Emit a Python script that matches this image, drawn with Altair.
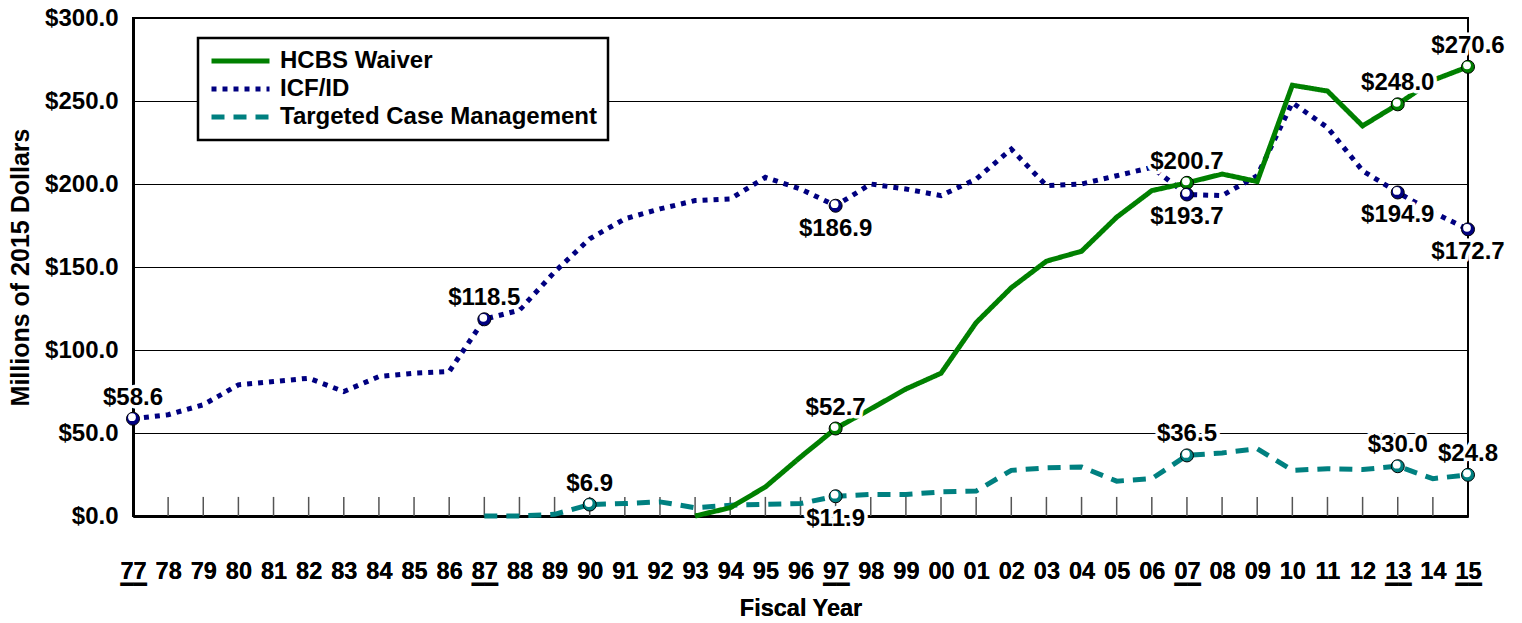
import altair as alt
import pandas as pd

# ---------------- data ----------------
YEARS = list(range(1977, 2016))
TICK_LABELS = ["77", "78", "79", "80", "81", "82", "83", "84", "85", "86",
               "87", "88", "89", "90", "91", "92", "93", "94", "95", "96",
               "97", "98", "99", "00", "01", "02", "03", "04", "05", "06",
               "07", "08", "09", "10", "11", "12", "13", "14", "15"]
UNDERLINED_YEARS = [1977, 1987, 1997, 2007, 2013, 2015]

SERIES = ["HCBS Waiver", "ICF/ID", "Targeted Case Management"]

HCBS = [None] * 16 + [0.0, 5.0, 17.5, 35.5, 52.7, 64.5, 76.5, 86.0, 116.5, 137.5,
                      153.5, 159.5, 180.0, 196.0, 200.7, 206.0, 201.5, 259.5, 256.0,
                      235.0, 248.0, 262.5, 270.6]
ICF = [58.6, 61.0, 67.0, 79.0, 81.0, 83.0, 75.0, 84.0, 86.0, 87.0,
       118.5, 124.0, 147.0, 167.0, 179.0, 185.0, 190.0, 191.0, 204.0, 197.0,
       186.9, 200.0, 197.0, 193.0, 203.0, 221.0, 199.0, 200.0, 205.0, 210.0,
       193.7, 193.0, 205.0, 249.0, 234.0, 208.0, 194.9, 183.0, 172.7]
TCM = [None] * 10 + [0.0, 0.0, 1.0, 6.9, 7.5, 8.5, 5.0, 6.5, 7.0, 7.5,
                     11.9, 13.0, 13.0, 14.5, 15.0, 27.5, 29.0, 29.5, 21.0, 22.5,
                     36.5, 38.0, 40.5, 27.5, 28.5, 28.0, 30.0, 22.5, 24.8]

MARKER_YEARS = {
    "HCBS Waiver": [1997, 2007, 2013, 2015],
    "ICF/ID": [1977, 1987, 1997, 2007, 2013, 2015],
    "Targeted Case Management": [1990, 1997, 2007, 2013, 2015],
}
LABEL_BELOW_YEARS = {
    "ICF/ID": [1997, 2007, 2013, 2015],
    "Targeted Case Management": [1997],
}
Y_TICKS = [0, 50, 100, 150, 200, 250, 300]

# ---------------- styles ----------------
COLORS = ["#008000", "#000080", "#008080"]
DASHES = [[1, 0], [5, 6], [13, 9]]
FONT = "Liberation Sans"
TICK_LEN = 11.5  # inner tick length in data units

rows = []
for name, vals in zip(SERIES, [HCBS, ICF, TCM]):
    for yr, v in zip(YEARS, vals):
        if v is not None:
            rows.append({"series": name, "year": yr, "value": v})
df = pd.DataFrame(rows)

mk = df[df.apply(lambda r: r["year"] in MARKER_YEARS[r["series"]], axis=1)].copy()
mk["below"] = mk.apply(lambda r: r["year"] in LABEL_BELOW_YEARS.get(r["series"], []), axis=1)

ticks_df = pd.DataFrame({"year": YEARS[1:-1]})
ticks_df["y0"] = 0.0
ticks_df["y1"] = TICK_LEN

x_scale = alt.Scale(domain=[1977, 2015], nice=False, zero=False)
y_scale = alt.Scale(domain=[0, 300], nice=False)

label_expr = "[" + ",".join("'%s'" % t for t in TICK_LABELS) + "][datum.value - 1977]"

x_axis_main = alt.Axis(
    values=YEARS, labelExpr=label_expr, title="Fiscal Year", orient="bottom",
    titleFont=FONT, titleFontSize=23.5, titleFontWeight="bold", titleColor="black",
    titlePadding=14, labelFont=FONT, labelFontSize=23.5, labelFontWeight="bold",
    labelColor="black", labelPadding=43, ticks=False, tickSize=0,
    domainColor="black", domainWidth=3, grid=False, labelFlush=False,
    labelOverlap=False,
)
x_axis_underline = alt.Axis(
    values=UNDERLINED_YEARS, labelExpr="'━━'", title=None, orient="bottom",
    labelFont="DejaVu Sans", labelFontSize=22, labelFontWeight="normal",
    labelColor="black", labelPadding=68, labelBaseline="middle",
    ticks=False, tickSize=0, domain=False, grid=False, labelFlush=False,
    labelOverlap=False,
)
y_axis = alt.Axis(
    values=Y_TICKS, format="$.1f", title="Millions of 2015 Dollars",
    titleFont=FONT, titleFontSize=25, titleFontWeight="bold", titleColor="black",
    titlePadding=11, labelFont=FONT, labelFontSize=24, labelFontWeight="bold",
    labelColor="black", labelPadding=15, ticks=False, tickSize=0,
    domainColor="black", domainWidth=3, grid=True, gridColor="black",
    gridWidth=1, labelFlush=False, labelOverlap=False,
)

leg = alt.Legend(
    title=None, orient="none", legendX=65, legendY=20, symbolType="stroke",
    symbolSize=3364, symbolStrokeWidth=5, labelFont=FONT, labelFontSize=24,
    labelFontWeight="bold", labelColor="black", padding=11, strokeColor="black",
    fillColor="white", clipHeight=24, rowPadding=4, labelOffset=8, labelLimit=0,
)

color_enc = alt.Color("series:N", scale=alt.Scale(domain=SERIES, range=COLORS), legend=leg)
dash_enc = alt.StrokeDash("series:N", scale=alt.Scale(domain=SERIES, range=DASHES), legend=leg)

rules = alt.Chart(ticks_df).mark_rule(color="#555555", strokeWidth=1.5).encode(
    x=alt.X("year:Q", scale=x_scale, axis=x_axis_underline),
    y=alt.Y("y0:Q", scale=y_scale, axis=y_axis),
    y2="y1:Q",
)

def line_layer(names):
    return alt.Chart(df).transform_filter(
        alt.FieldOneOfPredicate(field="series", oneOf=names)
    ).mark_line(strokeWidth=5).encode(
        x=alt.X("year:Q", scale=x_scale, axis=x_axis_main),
        y=alt.Y("value:Q", scale=y_scale, axis=y_axis),
        color=color_enc,
        strokeDash=dash_enc,
    )

lines_back = line_layer(["ICF/ID", "Targeted Case Management"])
lines_front = line_layer(["HCBS Waiver"])

pos = dict(
    x=alt.X("year:Q", scale=x_scale, axis=None),
    y=alt.Y("value:Q", scale=y_scale, axis=y_axis),
)

outer = alt.Chart(mk).mark_circle(size=170, stroke="black", strokeWidth=1, opacity=1).encode(
    fill=alt.Fill("series:N", scale=alt.Scale(domain=SERIES, range=COLORS), legend=None),
    **pos,
)
inner = alt.Chart(mk).mark_circle(size=60, color="white", opacity=1, xOffset=-1, yOffset=-1.5).encode(**pos)

def label_layers(below, dy):
    base = alt.Chart(mk).transform_filter(alt.datum.below == below)
    txt = alt.Text("value:Q", format="$.1f")
    halo = base.mark_text(font=FONT, fontSize=24, fontWeight="bold", baseline="middle",
                          dy=dy, stroke="white", strokeWidth=7, strokeJoin="round",
                          fill="white").encode(text=txt, **pos)
    front = base.mark_text(font=FONT, fontSize=24, fontWeight="bold", baseline="middle",
                           dy=dy, color="black").encode(text=txt, **pos)
    return [halo, front]

chart = alt.layer(
    rules, lines_back, lines_front, outer, inner,
    *label_layers(False, -21), *label_layers(True, 23),
).resolve_axis(x="independent").properties(
    width=1335, height=498,
    autosize=alt.AutoSizeParams(type="none"),
    padding={"left": 125, "top": 10, "right": 40, "bottom": 105},
).configure_view(stroke="black", strokeWidth=2).configure_legend(strokeWidth=2.5)

chart.save("out.html", embed_options={"renderer": "svg", "actions": False})
